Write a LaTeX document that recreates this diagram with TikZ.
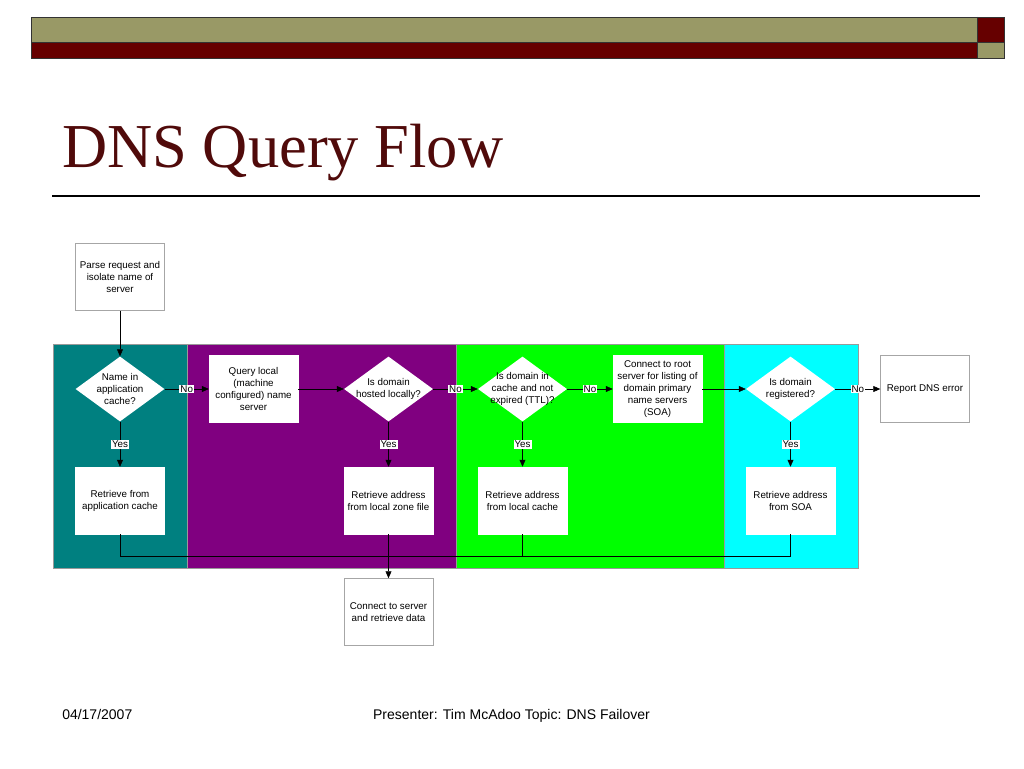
\documentclass[tikz,border=0pt]{standalone}
\usepackage{fontspec}
\setmainfont{Liberation Serif}
\setsansfont{Liberation Sans}
\usetikzlibrary{shapes.geometric,arrows.meta}
\definecolor{barolive}{RGB}{153,153,102}
\definecolor{barred}{RGB}{102,0,0}
\definecolor{titlered}{RGB}{80,10,10}
\definecolor{laneteal}{RGB}{0,128,128}
\definecolor{lanepurple}{RGB}{128,0,128}
\definecolor{lanegreen}{RGB}{0,255,0}
\definecolor{lanecyan}{RGB}{0,255,255}

\begin{document}
\begin{tikzpicture}[x=1pt,y=-1pt,>={Triangle[length=7pt,width=6pt]},line width=0.5pt,
  box/.style={rectangle,draw=gray!70,fill=white,minimum width=89pt,minimum height=67pt,
    align=center,inner sep=1pt,font=\sffamily\fontsize{9.8}{12}\selectfont},
  dia/.style={diamond,fill=white,minimum width=89pt,minimum height=65pt,inner sep=0pt},
  txt/.style={align=center,inner sep=0pt,font=\sffamily\fontsize{9.8}{12}\selectfont},
  tag/.style={fill=white,inner sep=1pt,font=\sffamily\fontsize{9.8}{10}\selectfont}]

\useasboundingbox (0,0) rectangle (1024,768);

% header bars
\fill[barolive] (31,17) rectangle (977,42);
\fill[barred] (31,42) rectangle (977,58);
\fill[barred] (977,17) rectangle (1004,42);
\fill[barolive] (977,42) rectangle (1004,58);
\draw[black!80,line width=0.8pt] (31,17) rectangle (1004,58) (31,42) -- (1004,42) (977,17) -- (977,58);

\node(title) at (62,167)[anchor=base west,inner sep=0pt,text=titlered,font=\fontsize{62.5}{62.5}\selectfont]{DNS Query Flow};
\draw[line width=1.2pt] (52,196) -- (980,196);

% lanes
\filldraw[fill=laneteal,draw=gray!80] (53,344) rectangle (187,568);
\filldraw[fill=lanepurple,draw=gray!80] (187,344) rectangle (456,568);
\filldraw[fill=lanegreen,draw=gray!80] (456,344) rectangle (724,568);
\filldraw[fill=lanecyan,draw=gray!80] (724,344) rectangle (858,568);

\node(parse) at (120,277)[box]{Parse request and\\isolate name of\\server};

\node(d1) at (120,389)[dia,label={[txt]center:{Name in\\application\\cache?}}]{};
\node(query) at (253.5,389)[box,draw=white]{Query local\\(machine\\configured) name\\server};
\node(d2) at (388.5,389)[dia,label={[txt]center:{Is domain\\hosted locally?}}]{};
\node(d3) at (522.5,389)[dia,label={[txt]center:{Is domain in\\cache and not\\expired (TTL)?}}]{};
\node(root) at (657.5,389)[box,draw=white]{Connect to root\\server for listing of\\domain primary\\name servers\\(SOA)};
\node(d4) at (790.5,389)[dia,label={[txt]center:{Is domain\\registered?}}]{};
\node(report) at (925,389)[box]{Report DNS error};

\node(r1) at (120,500.5)[box,draw=white]{Retrieve from\\application cache};
\node(r2) at (388.5,500.5)[box,draw=white]{Retrieve address\\from local zone file};
\node(r3) at (522.5,500.5)[box,draw=white]{Retrieve address\\from local cache};
\node(r4) at (790.5,500.5)[box,draw=white]{Retrieve address\\from SOA};

\node(connect) at (388.5,612)[box]{Connect to server\\and retrieve data};
\coordinate(join) at (388.5,556);

\draw[->] (parse) -- (d1);
\draw[->] (d1) -- node[tag]{No} (query);
\draw[->] (query) -- (d2);
\draw[->] (d2) -- node[tag]{No} (d3);
\draw[->] (d3) -- node[tag]{No} (root);
\draw[->] (root) -- (d4);
\draw[->] (d4) -- node[tag]{No} (report);

\draw[->] (d1) -- node[tag]{Yes} (r1);
\draw[->] (d2) -- node[tag]{Yes} (r2);
\draw[->] (d3) -- node[tag]{Yes} (r3);
\draw[->] (d4) -- node[tag]{Yes} (r4);

\draw (r1) |- (join);
\draw (r3) |- (join);
\draw (r4) |- (join);
\draw[->] (r2) -- (connect);

% footer
\node(date) at (62,719)[anchor=base west,inner sep=0pt,font=\sffamily\fontsize{14}{14}\selectfont]{04/17/2007};
\node(presenter) at (511.5,719)[anchor=base,inner sep=0pt,font=\sffamily\fontsize{14}{14}\selectfont]{Presenter: Tim McAdoo Topic: DNS Failover};

\end{tikzpicture}
\end{document}
